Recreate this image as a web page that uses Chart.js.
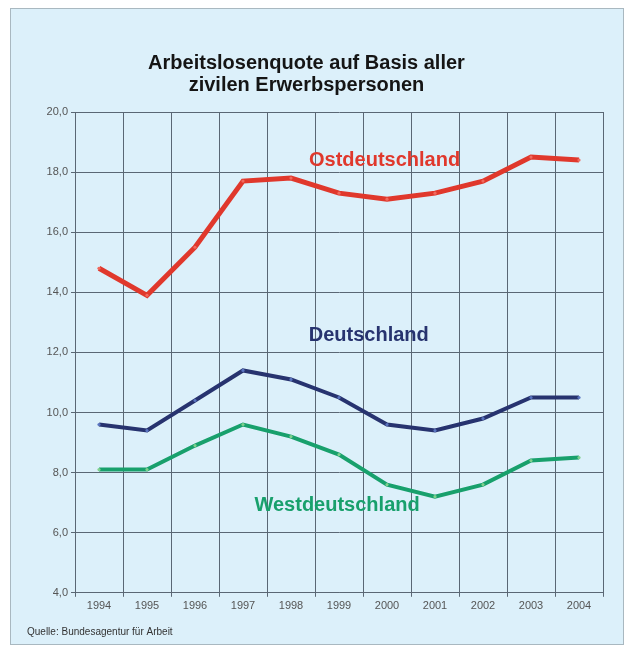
<!DOCTYPE html>
<html>
<head>
<meta charset="utf-8">
<script src="https://cdn.jsdelivr.net/npm/chart.js@4/dist/chart.umd.min.js"></script>
<style>
  body { margin: 0; background: #fff; }
</style>
</head>
<body>
<canvas id="quoteChart" width="631" height="651"></canvas>
<script>
// Arbeitslosenquote (%) 1994-2004
var years = ['1994', '1995', '1996', '1997', '1998', '1999', '2000', '2001', '2002', '2003', '2004'];
var ost = [14.8, 13.9, 15.5, 17.7, 17.8, 17.3, 17.1, 17.3, 17.7, 18.5, 18.4];
var gesamt = [9.6, 9.4, 10.4, 11.4, 11.1, 10.5, 9.6, 9.4, 9.8, 10.5, 10.5];
var west = [8.1, 8.1, 8.9, 9.6, 9.2, 8.6, 7.6, 7.2, 7.6, 8.4, 8.5];
var seriesNames = ['Ostdeutschland', 'Deutschland', 'Westdeutschland'];

var red = '#e0382c';
var blue = '#27336f';
var green = '#18a06c';
var panel = '#dcf0fa';
var gridColor = '#5a6774';

// light blue panel behind everything
var panelBg = {
    id: 'panelBg',
    beforeDraw: function(chart) {
        var ctx = chart.ctx;
        ctx.save();
        ctx.fillStyle = '#fff';
        ctx.fillRect(0, 0, chart.width, chart.height);
        ctx.fillStyle = panel;
        ctx.fillRect(10.5, 8.5, 613, 636);
        ctx.strokeStyle = '#a9b8c0';
        ctx.lineWidth = 1;
        ctx.strokeRect(10.5, 8.5, 613, 636);
        ctx.restore();
    }
};

// series names written next to the lines, plus the source note
var lineLabels = {
    id: 'lineLabels',
    afterDatasetsDraw: function(chart) {
        var ctx = chart.ctx;
        var x = chart.scales.x, y = chart.scales.y;
        var spots = [
            { ds: 0, at: 5.95, v: 18.4 },
            { ds: 1, at: 5.62, v: 12.55 },
            { ds: 2, at: 4.96, v: 6.9 }
        ];
        ctx.save();
        ctx.font = 'bold 20px "Liberation Sans", Arial, sans-serif';
        ctx.textAlign = 'center';
        ctx.textBaseline = 'middle';
        spots.forEach(function(s) {
            var d = chart.data.datasets[s.ds];
            ctx.fillStyle = d.borderColor;
            ctx.fillText(d.label, x.getPixelForValue(s.at), y.getPixelForValue(s.v));
        });
        ctx.font = '10px "Liberation Sans", Arial, sans-serif';
        ctx.fillStyle = '#333';
        ctx.textAlign = 'left';
        ctx.fillText('Quelle: Bundesagentur für Arbeit', 27, 632);
        ctx.restore();
    }
};

var lineOpts = { borderWidth: 4, pointRadius: 1.6, pointBorderWidth: 0, tension: 0 };

new Chart(document.getElementById('quoteChart'), {
    type: 'line',
    data: {
        labels: years,
        datasets: [
            Object.assign({ label: seriesNames[0], data: ost, borderColor: red, backgroundColor: '#f06a5e' }, lineOpts, { borderWidth: 5 }),
            Object.assign({ label: seriesNames[1], data: gesamt, borderColor: blue, backgroundColor: '#5a74c0' }, lineOpts),
            Object.assign({ label: seriesNames[2], data: west, borderColor: green, backgroundColor: '#7fd08e' }, lineOpts)
        ]
    },
    options: {
        responsive: false,
        animation: false,
        layout: { padding: { left: 10, right: 28, top: 8, bottom: 35 } },
        plugins: {
            legend: { display: false },
            tooltip: { enabled: false },
            title: {
                display: true,
                text: ['Arbeitslosenquote auf Basis aller', 'zivilen Erwerbspersonen'],
                color: '#151515',
                font: { family: '"Liberation Sans", Arial, sans-serif', size: 20, weight: 'bold', lineHeight: 1.1 },
                padding: { top: 44, bottom: 16 }
            }
        },
        scales: {
            x: {
                offset: true,
                grid: { offset: true, color: gridColor, lineWidth: 1, tickLength: 4 },
                border: { color: gridColor },
                ticks: { color: '#555', font: { family: '"Liberation Sans", Arial, sans-serif', size: 11 }, padding: 3, maxRotation: 0 }
            },
            y: {
                min: 4,
                max: 20,
                afterFit: function(scale) { scale.width = 65; },
                grid: { color: gridColor, lineWidth: 1, tickLength: 4 },
                border: { color: gridColor },
                ticks: {
                    stepSize: 2,
                    color: '#555',
                    padding: 3,
                    font: { family: '"Liberation Sans", Arial, sans-serif', size: 11 },
                    callback: function(v) { return v.toFixed(1).replace('.', ','); }
                }
            }
        }
    },
    plugins: [panelBg, lineLabels]
});
</script>
</body>
</html>
